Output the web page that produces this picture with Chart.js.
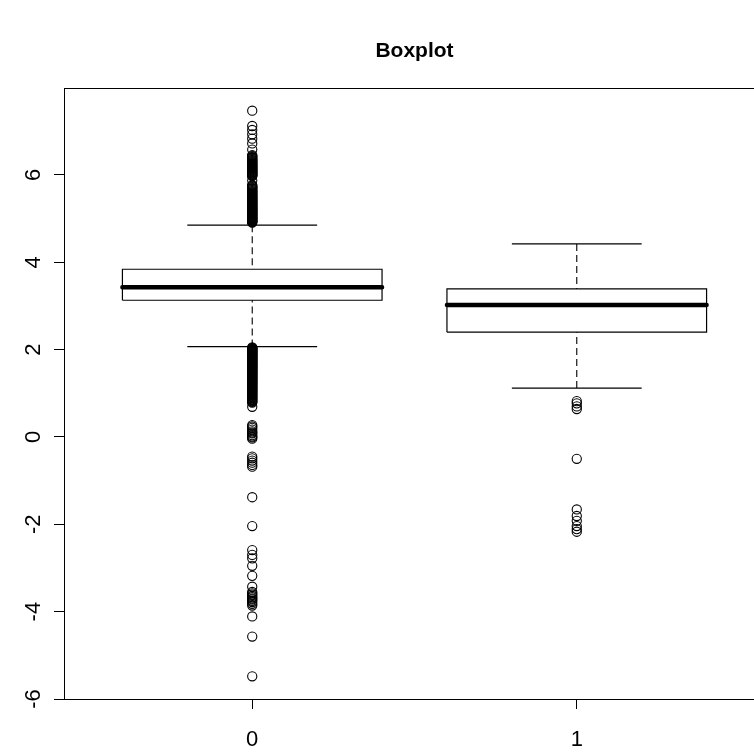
<!DOCTYPE html>
<html>
<head>
<meta charset="utf-8">
<title>Boxplot</title>
<script src="https://cdn.jsdelivr.net/npm/chart.js@4.4.1/dist/chart.umd.min.js"></script>
<style>
  html, body { margin: 0; padding: 0; background: #fff; overflow: hidden; }
  #frame { position: relative; width: 754px; height: 756px; overflow: hidden; background: #fff; }
  #plot { position: absolute; left: 0; top: 0; }
</style>
</head>
<body>
<div id="frame"><canvas id="plot" width="770" height="756"></canvas></div>
<script>
// ---- data -------------------------------------------------------------
const categories = ['0', '1'];

const lowerWhisker = [2.07, 1.12];
const q1           = [3.13, 2.40];
const median       = [3.43, 3.02];
const q3           = [3.84, 3.39];
const upperWhisker = [4.85, 4.42];

// group "0": points beyond the whiskers
const outliers0 = [
  4.910, 4.918, 4.929, 4.940, 4.949, 4.961, 4.970, 4.982, 4.991, 5.003, 5.012, 5.024,
  5.033, 5.045, 5.054, 5.066, 5.075, 5.087, 5.096, 5.108, 5.117, 5.129, 5.138, 5.150,
  5.160, 5.171, 5.181, 5.192, 5.202, 5.213, 5.224, 5.235, 5.245, 5.256, 5.267, 5.278,
  5.289, 5.300, 5.311, 5.322, 5.334, 5.345, 5.356, 5.368, 5.379, 5.391, 5.402, 5.414,
  5.426, 5.438, 5.450, 5.462, 5.474, 5.487, 5.499, 5.512, 5.524, 5.537, 5.550, 5.563,
  5.576, 5.590, 5.603, 5.617, 5.631, 5.645, 5.659, 5.674, 5.689, 5.704, 5.720, 5.736,
  5.752, 5.768, 5.870,
  5.970, 5.982, 5.993, 6.005, 6.016, 6.028, 6.039, 6.051, 6.062, 6.074, 6.086, 6.097,
  6.109, 6.121, 6.133, 6.145, 6.157, 6.169, 6.181, 6.194, 6.206, 6.219, 6.232, 6.245,
  6.258, 6.271, 6.285, 6.299, 6.313, 6.327, 6.342, 6.357, 6.372, 6.388, 6.404, 6.420,
  6.437, 6.455, 6.58, 6.72, 6.83, 6.93, 7.03, 7.12, 7.47,

  2.050, 2.041, 2.031, 2.022, 2.012, 2.003, 1.993, 1.984, 1.974, 1.965, 1.955, 1.946,
  1.936, 1.927, 1.917, 1.907, 1.898, 1.888, 1.878, 1.869, 1.859, 1.849, 1.839, 1.829,
  1.820, 1.810, 1.800, 1.790, 1.780, 1.770, 1.760, 1.750, 1.740, 1.730, 1.720, 1.709,
  1.699, 1.689, 1.679, 1.668, 1.658, 1.648, 1.637, 1.627, 1.616, 1.606, 1.595, 1.585,
  1.574, 1.563, 1.553, 1.542, 1.531, 1.520, 1.509, 1.498, 1.487, 1.476, 1.465, 1.454,
  1.443, 1.432, 1.420, 1.409, 1.398, 1.386, 1.375, 1.363, 1.352, 1.340, 1.328, 1.317,
  1.305, 1.293, 1.281, 1.269, 1.257, 1.245, 1.233, 1.221, 1.208, 1.196, 1.184, 1.171,
  1.159, 1.146, 1.133, 1.121, 1.108, 1.095, 1.082, 1.069, 1.056, 1.042, 1.029, 1.016,
  1.002, 0.988, 0.975, 0.961, 0.947, 0.933, 0.919, 0.905, 0.890, 0.876, 0.861, 0.846,
  0.831, 0.816, 0.801, 0.786, 0.69,
  0.27, 0.24, 0.21, 0.17, 0.13, 0.10, 0.08, 0.04, 0.01, -0.01, -0.04,
  -0.45, -0.49, -0.54, -0.59, -0.64, -0.68,
  -1.38, -2.04,
  -2.59, -2.70, -2.78, -2.95, -3.18, -3.43,
  -3.55, -3.58, -3.61, -3.64, -3.67, -3.70, -3.72, -3.75, -3.78, -3.82, -3.86,
  -4.11, -4.57, -5.48
];
// group "1": points beyond the whiskers
const outliers1 = [0.82, 0.77, 0.70, 0.64, -0.50, -1.66, -1.81, -1.92, -2.04, -2.11, -2.17];

const yTicks = [-6, -4, -2, 0, 2, 4, 6];

// ---- drawing helpers -----------------------------------------------------
const TICK_FONT = '"Liberation Sans Narrow", "Arial Narrow", "Liberation Sans", Arial, sans-serif';
const TITLE_FONT = '"Liberation Sans", Arial, Helvetica, sans-serif';
const INK = '#000';
const BOX_HALF = 0.4;                 // half box width, in x units
const CAP_HALF = 0.2;                 // half whisker-cap width
const positions = categories.map((c, i) => i + 1);
const outlierSets = [outliers0, outliers1];

// join several short polylines into one dataset, broken by null points
function polylines(list) {
  const pts = [];
  list.forEach((line, k) => {
    if (k) pts.push({ x: line[0][0], y: null });
    line.forEach(p => pts.push({ x: p[0], y: p[1] }));
  });
  return pts;
}

const boxLines = polylines(positions.map((x, i) => [
  [x - BOX_HALF, q1[i]], [x + BOX_HALF, q1[i]], [x + BOX_HALF, q3[i]],
  [x - BOX_HALF, q3[i]], [x - BOX_HALF, q1[i]]
]));
const medianLines = polylines(positions.map((x, i) => [
  [x - BOX_HALF, median[i]], [x + BOX_HALF, median[i]]
]));
const whiskerLines = polylines(positions.flatMap((x, i) => [
  [[x, upperWhisker[i]], [x, q3[i]]],
  [[x, lowerWhisker[i]], [x, q1[i]]]
]));
const capLines = polylines(positions.flatMap((x, i) => [
  [[x - CAP_HALF, upperWhisker[i]], [x + CAP_HALF, upperWhisker[i]]],
  [[x - CAP_HALF, lowerWhisker[i]], [x + CAP_HALF, lowerWhisker[i]]]
]));
const outlierPoints = positions.flatMap((x, i) => outlierSets[i].map(v => ({ x: x, y: v })));

const lineBase = { type: 'line', borderColor: INK, pointRadius: 0, fill: false,
                   tension: 0, spanGaps: false };

// plot frame around the chart area
const framePlugin = {
  id: 'plotFrame',
  afterDatasetsDraw(chart) {
    const a = chart.chartArea, ctx = chart.ctx;
    ctx.save();
    ctx.strokeStyle = INK;
    ctx.lineWidth = 1;
    const l = Math.round(a.left) + 0.5, t = Math.round(a.top) + 0.5;
    const r = Math.round(a.right) + 0.5, b = Math.round(a.bottom) + 0.5;
    ctx.strokeRect(l, t, r - l, b - t);
    ctx.restore();
  }
};

new Chart(document.getElementById('plot'), {
  data: {
    datasets: [
      Object.assign({}, lineBase, { data: boxLines, borderWidth: 1.2 }),
      Object.assign({}, lineBase, { data: whiskerLines, borderWidth: 1.1, borderDash: [7, 4] }),
      Object.assign({}, lineBase, { data: capLines, borderWidth: 1.2 }),
      Object.assign({}, lineBase, { data: medianLines, borderWidth: 4.5, borderCapStyle: 'round' }),
      { type: 'scatter', data: outlierPoints, pointStyle: 'circle', pointRadius: 4.6,
        pointBorderWidth: 1.1, pointBorderColor: INK, pointBackgroundColor: 'rgba(0,0,0,0)',
        showLine: false }
    ]
  },
  options: {
    responsive: false,
    animation: false,
    devicePixelRatio: 1,
    layout: { padding: { left: 0, right: 5, top: 0, bottom: 0 }, autoPadding: false },
    plugins: {
      legend: { display: false },
      tooltip: { enabled: false },
      title: {
        display: true, text: 'Boxplot', color: '#000', fullSize: false,
        font: { family: TITLE_FONT, size: 21, weight: 'bold', lineHeight: 1.2 },
        padding: { top: 39, bottom: 23.8 }
      }
    },
    scales: {
      x: {
        type: 'linear', min: 0.42, max: 2.58,
        afterBuildTicks: s => { s.ticks = positions.map(v => ({ value: v })); },
        afterFit: s => { s.height = 57; },
        border: { display: false },
        grid: { drawOnChartArea: false, drawTicks: true, tickLength: 10, color: INK, lineWidth: 1 },
        ticks: {
          autoSkip: false, maxRotation: 0, minRotation: 0, padding: 18, color: '#000',
          font: { family: TICK_FONT, size: 22 },
          callback: v => categories[Math.round(v) - 1]
        }
      },
      y: {
        type: 'linear', min: -6, max: 7.99,
        afterBuildTicks: s => { s.ticks = yTicks.map(v => ({ value: v })); },
        afterFit: s => { s.width = 64; },
        border: { display: false },
        grid: { drawOnChartArea: false, drawTicks: true, tickLength: 10, color: INK, lineWidth: 1 },
        ticks: {
          minRotation: 90, maxRotation: 90, crossAlign: 'center', padding: 10, color: '#000',
          font: { family: TICK_FONT, size: 22 },
          callback: v => String(v)
        }
      }
    }
  },
  plugins: [framePlugin]
});
</script>
</body>
</html>
